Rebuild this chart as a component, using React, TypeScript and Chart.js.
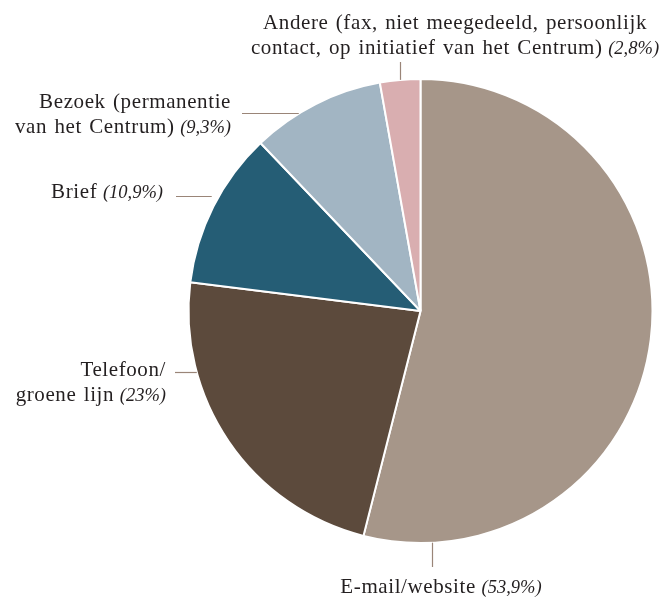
import React, { useEffect, useRef } from "react";
import { Chart, registerables } from "chart.js";

Chart.register(...registerables);

const categories = [
  "E-mail/website",
  "Telefoon/ groene lijn",
  "Brief",
  "Bezoek (permanentie van het Centrum)",
  "Andere (fax, niet meegedeeld, persoonlijk contact, op initiatief van het Centrum)",
];
const values = [53.9, 23, 10.9, 9.3, 2.8];
const percentLabels = ["(53,9%)", "(23%)", "(10,9%)", "(9,3%)", "(2,8%)"];
const colors = ["#a69689", "#5c4a3c", "#255d75", "#a2b5c3", "#d9aeb0"];

// label text lines (last line gets the italic percentage)
const labelLines = [
  ["E-mail/website"],
  ["Telefoon/", "groene lijn"],
  ["Brief"],
  ["Bezoek (permanentie", "van het Centrum)"],
  ["Andere (fax, niet meegedeeld, persoonlijk", "contact, op initiatief van het Centrum)"],
];

const FONT = '"Liberation Serif", serif';
const FS = 21;
const FS_IT = 18.5;
const LS = "0.6px";
const WS = "1.5px";
const LH = 25;

// layout of labels (align, anchor x, first baseline y, leader type and position)
const labelLayout = [
  { align: "center", x: 441, y: 593, leader: "v", lx: 432.5, from: 567 },
  { align: "right", x: 166, y: 376, leader: "h", ly: 372.5, from: 175 },
  { align: "right", x: 163, y: 198, leader: "h", ly: 196.5, from: 176, gap: 7 },
  { align: "right", x: 231, y: 108, leader: "h", ly: 113.5, from: 242 },
  { align: "center", x: 455, y: 29, leader: "v", lx: 400.5, from: 62 },
];

const labelPlugin = {
  id: "labelPlugin",
  afterDatasetsDraw(chart: any) {
    const ctx = chart.ctx as any;
    const meta = chart.getDatasetMeta(0);
    const arc0 = meta.data[0];
    const cx = arc0.x;
    const cy = arc0.y;
    const r = arc0.outerRadius;
    ctx.save();
    // leaders
    ctx.strokeStyle = "#9a8578";
    ctx.lineWidth = 1.2;
    labelLayout.forEach((L: any) => {
      const gap = L.gap || 0;
      ctx.beginPath();
      if (L.leader === "h") {
        const dy = L.ly - cy;
        const ex = cx - Math.sqrt(Math.max(r * r - dy * dy, 0)) - gap;
        ctx.moveTo(L.from, L.ly);
        ctx.lineTo(ex, L.ly);
      } else {
        const dx = L.lx - cx;
        const h = Math.sqrt(Math.max(r * r - dx * dx, 0));
        ctx.moveTo(L.lx, L.from);
        ctx.lineTo(L.lx, L.from < cy ? cy - h - gap : cy + h + gap);
      }
      ctx.stroke();
    });
    // texts
    ctx.fillStyle = "#231f20";
    ctx.textBaseline = "alphabetic";
    ctx.textAlign = "left";
    const normal = `${FS}px ${FONT}`;
    const italic = `italic ${FS_IT}px ${FONT}`;
    const setRoman = () => {
      ctx.font = normal;
      ctx.letterSpacing = LS;
      ctx.wordSpacing = WS;
    };
    const setItalic = () => {
      ctx.font = italic;
      ctx.letterSpacing = "0px";
      ctx.wordSpacing = "0px";
    };
    labelLines.forEach((lines, i) => {
      const L: any = labelLayout[i];
      lines.forEach((line, j) => {
        const isLast = j === lines.length - 1;
        const y = L.y + j * LH;
        setRoman();
        const w1 = ctx.measureText(line).width;
        let sp = 0;
        let w2 = 0;
        if (isLast) {
          setItalic();
          sp = ctx.measureText(" ").width + 1;
          w2 = ctx.measureText(percentLabels[i]).width;
        }
        const total = w1 + sp + w2;
        let x0 = L.x;
        if (L.align === "right") x0 = L.x - total;
        else if (L.align === "center") x0 = L.x - total / 2;
        setRoman();
        ctx.fillText(line, x0, y);
        if (isLast) {
          setItalic();
          ctx.fillText(percentLabels[i], x0 + w1 + sp, y);
        }
      });
    });
    ctx.restore();
  },
};

export default function App() {
  const ref = useRef<HTMLCanvasElement | null>(null);
  useEffect(() => {
    if (!ref.current) return;
    const chart = new Chart(ref.current, {
      type: "pie",
      data: {
        labels: categories,
        datasets: [
          {
            data: values,
            backgroundColor: colors,
            borderColor: "#ffffff",
            borderWidth: 2,
          },
        ],
      },
      options: {
        animation: false,
        responsive: true,
        maintainAspectRatio: false,
        radius: 232,
        layout: { padding: { left: 189, right: 12, top: 79, bottom: 54 } },
        plugins: {
          legend: { display: false },
          tooltip: { enabled: false },
        },
      } as any,
      plugins: [labelPlugin],
    });
    return () => chart.destroy();
  }, []);
  return (
    <div style={{ position: "absolute", left: 0, top: 0, width: 664, height: 597, background: "#fff" }}>
      <canvas ref={ref} />
    </div>
  );
}
